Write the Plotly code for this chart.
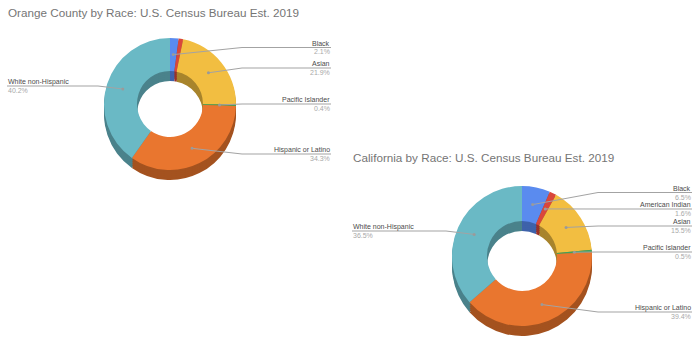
import plotly.graph_objects as go
import numpy as np

# ---------------- data ----------------
categories = ["Black", "American Indian", "Asian", "Pacific Islander",
              "Hispanic or Latino", "White non-Hispanic"]
oc_values = [2.1, 1.1, 21.9, 0.4, 34.3, 40.2]
ca_values = [6.5, 1.6, 15.5, 0.5, 39.4, 36.5]
oc_title = "Orange County by Race: U.S. Census Bureau Est. 2019"
ca_title = "California by Race: U.S. Census Bureau Est. 2019"
oc_labeled = [True, False, True, True, True, True]
ca_labeled = [True, True, True, True, True, True]

# ---------------- styles / layout ----------------
W, H = 700, 345
top_colors = ["#5A8BEF", "#D9473B", "#F2BE41", "#3DA35D", "#E9762F", "#6AB9C5"]
side_colors = ["#3E62AA", "#9A3128", "#A8842C", "#2A7241", "#A4521F", "#4A828B"]
FONT = "Liberation Sans, Arial, sans-serif"
depth_steps = [10, 8, 6, 4, 2]


def px(x):
    return x / W


def py(y):
    return 1 - y / H


charts = [
    dict(values=oc_values, labeled=oc_labeled, title=oc_title,
         cx=170, cy=104, r=66, title_xy=(7, 13),
         right_x=331, left_x=7,
         label_y=[47.5, None, 68, 104, 154, 86]),
    dict(values=ca_values, labeled=ca_labeled, title=ca_title,
         cx=522, cy=256, r=70, title_xy=(352, 157),
         right_x=692, left_x=352,
         label_y=[192.5, 209, 226, 252, 312, 231]),
]

fig = go.Figure()
shapes = []
annotations = []

for ch in charts:
    cx, cy, r = ch["cx"], ch["cy"], ch["r"]
    # extruded side (darker copies stacked downward)
    for off in depth_steps:
        fig.add_trace(go.Pie(
            labels=categories, values=ch["values"], hole=0.5,
            sort=False, direction="clockwise", rotation=0,
            marker=dict(colors=side_colors, line=dict(width=0)),
            textinfo="none", hoverinfo="skip", showlegend=False,
            domain=dict(x=[px(cx - r), px(cx + r)],
                        y=[py(cy + off + r), py(cy + off - r)]),
        ))
    # top face
    fig.add_trace(go.Pie(
        labels=categories, values=ch["values"], hole=0.5,
        sort=False, direction="clockwise", rotation=0,
        marker=dict(colors=top_colors, line=dict(width=0)),
        textinfo="none", hoverinfo="label+percent", showlegend=False,
        domain=dict(x=[px(cx - r), px(cx + r)],
                    y=[py(cy + r), py(cy - r)]),
    ))

    # leader lines + labels
    vals = np.array(ch["values"], dtype=float)
    total = vals.sum()
    starts = np.concatenate([[0.0], np.cumsum(vals)[:-1]])
    for i, cat in enumerate(categories):
        if not ch["labeled"][i]:
            continue
        frac = (starts[i] + vals[i] / 2) / total
        th = 2 * np.pi * frac
        dx = cx + 0.75 * r * np.sin(th)
        dy = cy - 0.75 * r * np.cos(th)
        ly = ch["label_y"][i]
        right = np.sin(th) >= 0
        if right:
            xh = cx + r + 6
            xe = ch["right_x"]
        else:
            xh = cx - r - 6
            xe = ch["left_x"]
        path = (f"M {px(dx)},{py(dy)} L {px(xh)},{py(ly)} L {px(xe)},{py(ly)}")
        shapes.append(dict(type="path", path=path, xref="paper", yref="paper",
                           line=dict(color="#a3a3a3", width=1), layer="above"))
        shapes.append(dict(type="circle", xref="paper", yref="paper",
                           x0=px(dx - 1.5), x1=px(dx + 1.5),
                           y0=py(dy + 1.5), y1=py(dy - 1.5),
                           fillcolor="#9a9a9a", line=dict(width=0), layer="above"))
        anchor = "right" if right else "left"
        annotations.append(dict(
            x=px(xe), y=py(ly - 4.5), xref="paper", yref="paper",
            text=cat, showarrow=False, xanchor=anchor, yanchor="middle",
            font=dict(family=FONT, size=7, color="#4a4a4a"),
            borderpad=0))
        annotations.append(dict(
            x=px(xe), y=py(ly + 4.5), xref="paper", yref="paper",
            text=f"{vals[i]:.1f}%", showarrow=False, xanchor=anchor,
            yanchor="middle",
            font=dict(family=FONT, size=7, color="#a8a8a8"),
            borderpad=0))

    tx, ty = ch["title_xy"]
    annotations.append(dict(
        x=px(tx), y=py(ty), xref="paper", yref="paper", text=ch["title"],
        showarrow=False, xanchor="left", yanchor="middle",
        font=dict(family=FONT, size=11.7, color="#757575"), borderpad=0))

fig.update_layout(
    width=W, height=H,
    margin=dict(l=0, r=0, t=0, b=0),
    paper_bgcolor="white", plot_bgcolor="white",
    shapes=shapes, annotations=annotations,
    showlegend=False,
    font=dict(family=FONT),
)

fig.write_html("out.html")
